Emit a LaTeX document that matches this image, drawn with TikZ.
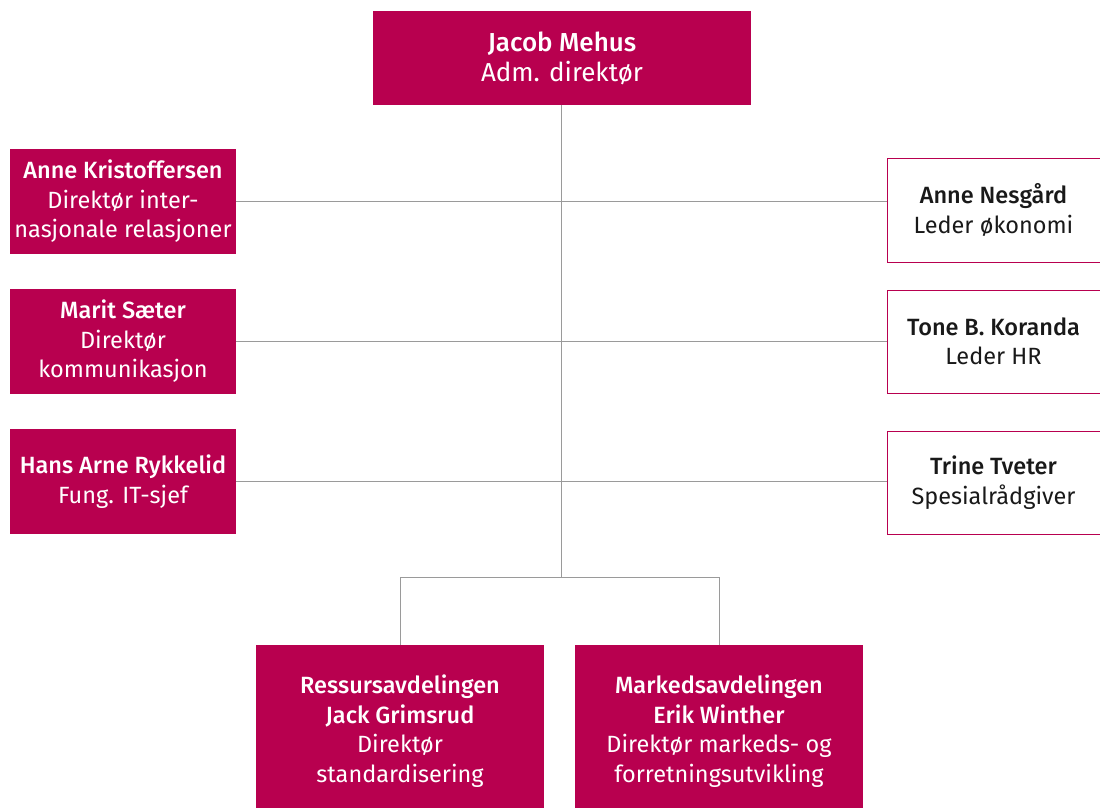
\documentclass[tikz,border=0pt]{standalone}
\usepackage{fontspec}
\setmainfont{Fira Sans}[BoldFont={Fira Sans Medium}]
\definecolor{mag}{HTML}{B8004F}
\definecolor{ln}{HTML}{9A9A9A}
\begin{document}
\begin{tikzpicture}[x=1pt,y=-1pt,
  txt/.style={font=\fontsize{23.5}{29.5}\selectfont, align=center},
  filled/.style={fill=mag, text=white, draw=none, inner sep=0pt},
  outlined/.style={draw=mag, line width=1pt, fill=white, text=black!90, inner sep=0pt},
  conn/.style={draw=ln, line width=1pt}]
\useasboundingbox (0,0) rectangle (1100,807);
\begin{scope}
\clip (0,0) rectangle (1100,807);
\node[filled, minimum width=378, minimum height=94, txt, font=\fontsize{26}{30}\selectfont] (top) at (562,58) {\textbf{Jacob Mehus}\\Adm. direktør};
\node[filled, minimum width=226, minimum height=105, txt] (l1) at (123,201.5) {\textbf{Anne Kristoffersen}\\Direktør inter-\\nasjonale relasjoner};
\node[filled, minimum width=226, minimum height=105, txt] (l2) at (123,341.5) {\textbf{Marit Sæter}\\Direktør\\kommunikasjon};
\node[filled, minimum width=226, minimum height=105, txt] (l3) at (123,481.5) {\textbf{Hans Arne Rykkelid}\\Fung. IT-sjef};
\node[outlined, minimum width=213, minimum height=104, txt] (r1) at (993.5,210) {\textbf{Anne Nesgård}\\Leder økonomi};
\node[outlined, minimum width=213, minimum height=103, txt] (r2) at (993.5,341.5) {\textbf{Tone B. Koranda}\\Leder HR};
\node[outlined, minimum width=213, minimum height=103, txt] (r3) at (993.5,482.5) {\textbf{Trine Tveter}\\Spesialrådgiver};
\node[filled, minimum width=288, minimum height=172, txt] (b1) at (400,731) {\textbf{Ressursavdelingen}\\\textbf{Jack Grimsrud}\\Direktør\\standardisering};
\node[filled, minimum width=288, minimum height=172, txt] (b2) at (719,731) {\textbf{Markedsavdelingen}\\\textbf{Erik Winther}\\Direktør markeds- og\\forretningsutvikling};
\coordinate (split) at (561,577);
\draw[conn] (top.south -| split) -- (split);
\draw[conn] (l1.east) -- (l1.east -| r1.west);
\draw[conn] (l2.east) -- (l2.east -| r2.west);
\draw[conn] (l3.east) -- (l3.east -| r3.west);
\draw[conn] (b1.north) -- (b1.north |- split) -- (b2.north |- split) -- (b2.north);
\end{scope}
\end{tikzpicture}
\end{document}
